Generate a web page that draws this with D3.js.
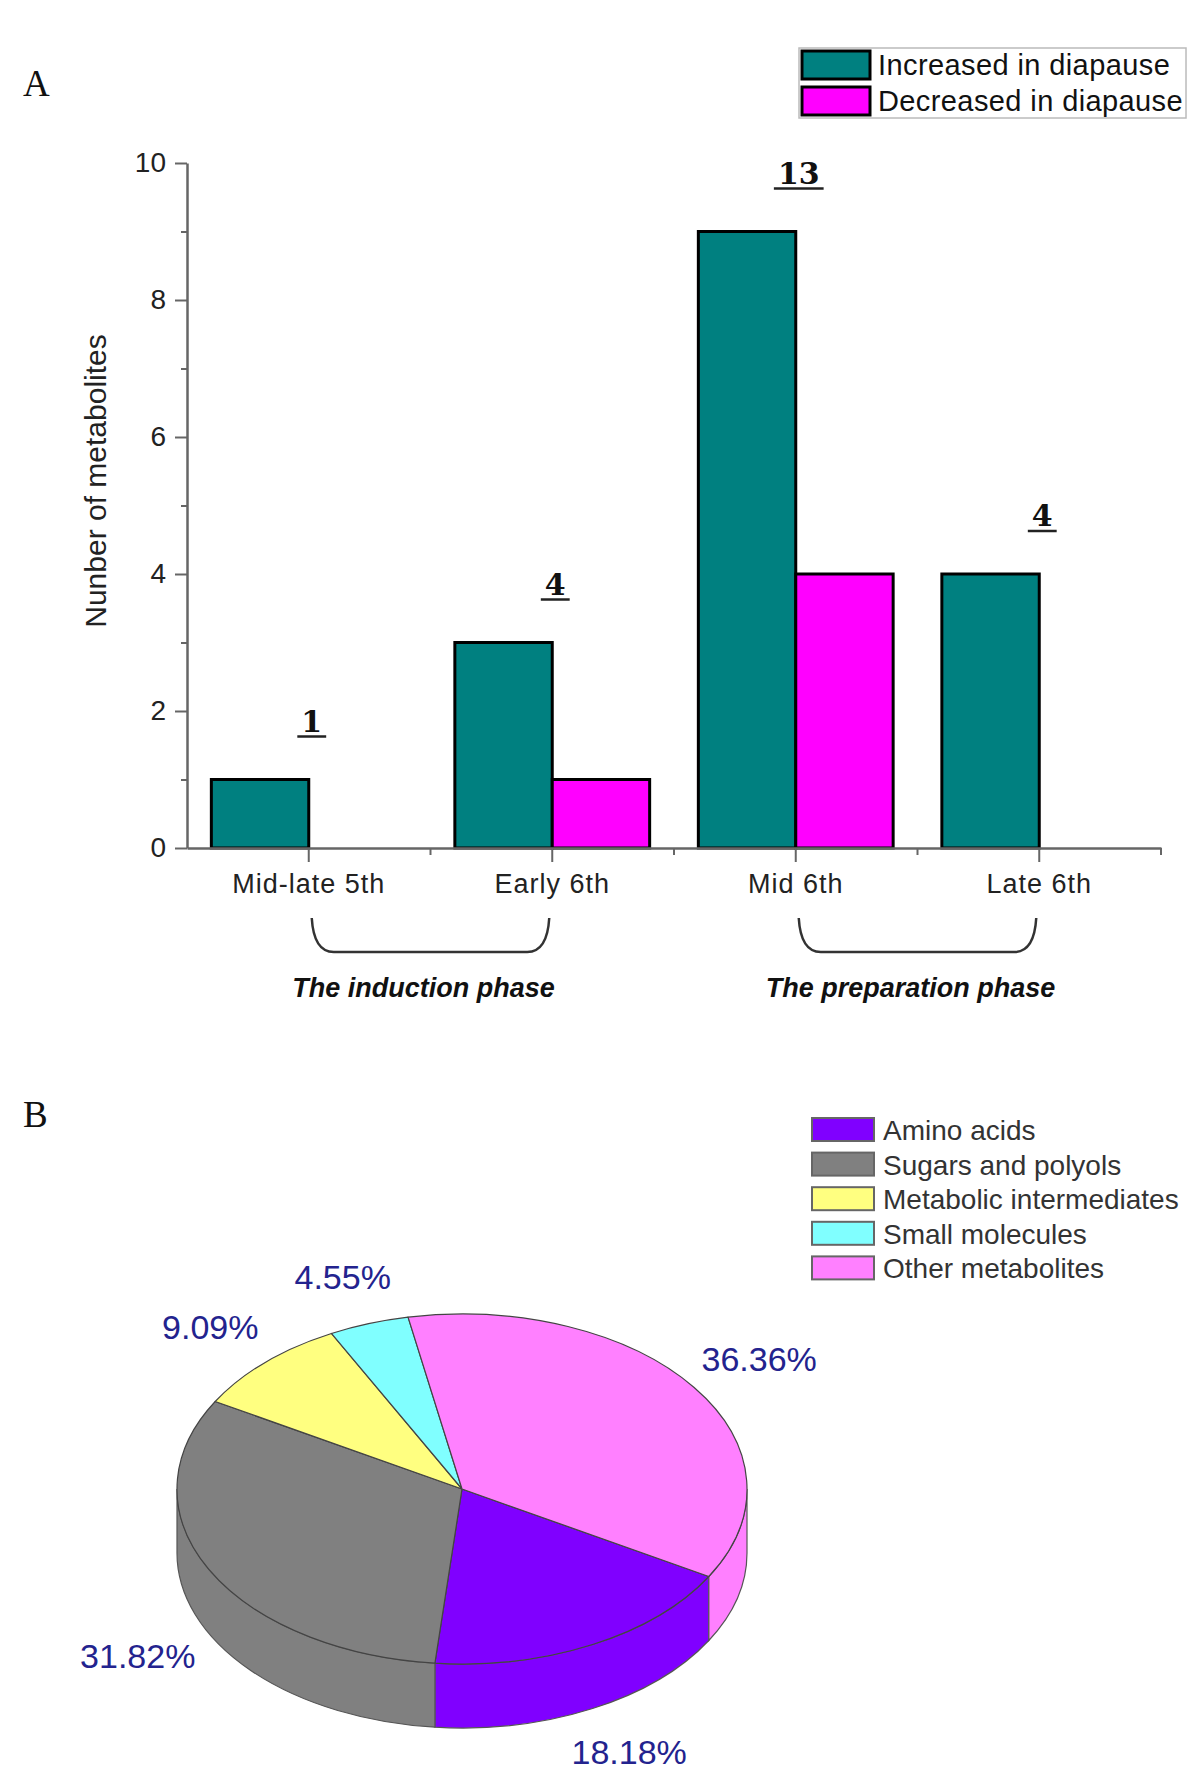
<!DOCTYPE html>
<html>
<head>
<meta charset="utf-8">
<script src="https://cdn.jsdelivr.net/npm/d3@7"></script>
<style>
  html, body { margin: 0; padding: 0; background: #fff; }
  svg { display: block; }
</style>
</head>
<body>
<svg id="chart" width="1200" height="1780"></svg>
<script>
// ---------------- DATA ----------------
const stages = ["Mid-late 5th", "Early 6th", "Mid 6th", "Late 6th"];
const seriesNames = ["Increased in diapause", "Decreased in diapause"];
const increased = [1, 3, 9, 4];
const decreased = [0, 1, 4, 0];
const totals = [1, 4, 13, 4];
const yTickValues = [0, 1, 2, 3, 4, 5, 6, 7, 8, 9, 10];
const yTitle = "Nunber of metabolites";
const phaseNames = ["The induction phase", "The preparation phase"];
const phaseFrom = [0, 2];
const phaseTo = [1, 3];

const pieCategories = ["Amino acids", "Sugars and polyols", "Metabolic intermediates", "Small molecules", "Other metabolites"];
const pieCounts = [4, 7, 2, 1, 8];
const pieLabels = ["18.18%", "31.82%", "9.09%", "4.55%", "36.36%"];

// ---------------- STYLE ----------------
const barColors = ["#008080", "#ff00ff"];
const pieColors = ["#8000ff", "#808080", "#ffff80", "#80ffff", "#ff80ff"];
const sans = "'Liberation Sans', Arial, sans-serif";

const svg = d3.select("#chart");

// Panel letters
svg.append("text").attr("x", 23).attr("y", 96).text("A")
  .attr("font-family", "'Liberation Serif', 'Times New Roman', serif").attr("font-size", 37).attr("fill", "#111");
svg.append("text").attr("x", 23).attr("y", 1127).text("B")
  .attr("font-family", "'Liberation Serif', 'Times New Roman', serif").attr("font-size", 37).attr("fill", "#111");

// ---------------- PANEL A: BAR CHART ----------------
const x = d3.scaleBand().domain(stages).range([187, 1161]).paddingInner(0).paddingOuter(0);
const xs = d3.scaleBand().domain(seriesNames).range([0, x.bandwidth()]).paddingOuter(0.25).paddingInner(0);
const y = d3.scaleLinear().domain([0, 10]).range([848, 163]);

const gA = svg.append("g");

// Y axis
const yAxis = d3.axisLeft(y).tickValues(yTickValues)
  .tickFormat(d => (d % 2 === 0 ? d : "")).tickSize(12).tickSizeOuter(0).tickPadding(9);
const gy = gA.append("g").attr("transform", `translate(${x.range()[0]},0)`).call(yAxis);
gy.select(".domain").attr("stroke", "#666").attr("stroke-width", 2.5);
gy.selectAll(".tick line").attr("stroke", "#666").attr("stroke-width", 2)
  .attr("x2", d => (d % 2 === 0 ? -12 : -6));
gy.selectAll(".tick text").attr("font-family", sans).attr("font-size", 28).attr("fill", "#222");

// Y title
gA.append("text")
  .attr("transform", `translate(106, 481) rotate(-90)`)
  .attr("text-anchor", "middle").attr("font-family", sans).attr("font-size", 30)
  .attr("fill", "#222").text(yTitle);

// Bars
const groups = gA.append("g").selectAll("g").data(stages).join("g")
  .attr("transform", d => `translate(${x(d)},0)`);
groups.selectAll("rect")
  .data((d, i) => [
    { s: seriesNames[0], v: increased[i], c: barColors[0] },
    { s: seriesNames[1], v: decreased[i], c: barColors[1] }
  ].filter(e => e.v > 0))
  .join("rect")
  .attr("x", e => xs(e.s))
  .attr("width", xs.bandwidth())
  .attr("y", e => y(e.v))
  .attr("height", e => y(0) - y(e.v))
  .attr("fill", e => e.c)
  .attr("stroke", "#000")
  .attr("stroke-width", 3);

// X axis
const xAxis = d3.axisBottom(x).tickSize(14).tickSizeOuter(0).tickPadding(12);
const gx = gA.append("g").attr("transform", `translate(0,${y(0)})`).call(xAxis);
gx.select(".domain").attr("stroke", "#666").attr("stroke-width", 2.5);
gx.selectAll(".tick line").attr("stroke", "#666").attr("stroke-width", 2);
gx.selectAll(".tick text").attr("font-family", sans).attr("font-size", 27).attr("fill", "#222")
  .attr("letter-spacing", "1px").attr("dy", null).attr("y", 45);
// minor ticks at group boundaries
const boundaries = stages.map(s => x(s)).concat([x.range()[1]]);
gx.selectAll(".minor").data(boundaries.slice(1)).join("line").attr("class", "minor")
  .attr("x1", d => d).attr("x2", d => d).attr("y1", 0).attr("y2", 7)
  .attr("stroke", "#666").attr("stroke-width", 2);

// Total labels (bold, underlined)
const totalG = gA.append("g").selectAll("g").data(stages).join("g");
totalG.append("text")
  .attr("x", (d) => x(d) + x.bandwidth() / 2 + 3)
  .attr("y", (d, i) => y(Math.max(increased[i], decreased[i])) - 48)
  .attr("text-anchor", "middle")
  .attr("font-family", "'DejaVu Serif', serif").attr("font-weight", "bold").attr("font-size", 30)
  .attr("fill", "#111")
  .text((d, i) => totals[i])
  .each(function (d, i) {
    const bb = this.getBBox();
    d3.select(this.parentNode).append("line")
      .attr("x1", bb.x - 4).attr("x2", bb.x + bb.width + 4)
      .attr("y1", y(Math.max(increased[i], decreased[i])) - 43)
      .attr("y2", y(Math.max(increased[i], decreased[i])) - 43)
      .attr("stroke", "#222").attr("stroke-width", 2.5);
  });

// Phase brackets
const brTop = 918, brBot = 952, rr = 22;
phaseNames.forEach((name, i) => {
  const x1 = x(stages[phaseFrom[i]]) + x.bandwidth() / 2 + 3;
  const x2 = x(stages[phaseTo[i]]) + x.bandwidth() / 2 - 3;
  const p = d3.path();
  p.moveTo(x1, brTop);
  p.quadraticCurveTo(x1 + 2, brBot, x1 + rr, brBot);
  p.lineTo(x2 - rr, brBot);
  p.quadraticCurveTo(x2 - 2, brBot, x2, brTop);
  gA.append("path").attr("d", p.toString()).attr("fill", "none")
    .attr("stroke", "#333").attr("stroke-width", 2.5);
  gA.append("text").attr("x", (x1 + x2) / 2 - 7).attr("y", 997)
    .attr("text-anchor", "middle").attr("font-family", sans)
    .attr("font-weight", "bold").attr("font-style", "italic").attr("font-size", 27)
    .attr("fill", "#111").text(name);
});

// Legend A
const legA = svg.append("g");
legA.append("rect").attr("x", 799).attr("y", 48).attr("width", 387).attr("height", 70)
  .attr("fill", "#fff").attr("stroke", "#bbb").attr("stroke-width", 1.5);
seriesNames.forEach((s, i) => {
  legA.append("rect").attr("x", 802).attr("y", 51 + i * 36).attr("width", 68).attr("height", 28)
    .attr("fill", barColors[i]).attr("stroke", "#000").attr("stroke-width", 3);
  legA.append("text").attr("x", 878).attr("y", 75 + i * 36).attr("font-family", sans)
    .attr("font-size", 29).attr("letter-spacing", "0.4px").attr("fill", "#111").text(s);
});

// ---------------- PANEL B: 3D PIE ----------------
const cx = 462, cy = 1489, rx = 285, ry = 175, depth = 64;
const pie = d3.pie().sort(null).value(d => d).startAngle(Math.PI * 2 / 3).endAngle(Math.PI * 2 / 3 + Math.PI * 2);
const arcs = pie(pieCounts);
const pt = (a, dy = 0) => [cx + rx * Math.sin(a), cy - ry * Math.cos(a) + dy];

const gB = svg.append("g");

// Sides (front half: angles between PI/2 and 3PI/2, modulo 2PI)
arcs.forEach((a, i) => {
  [0, Math.PI * 2].forEach(k => {
    const b0 = Math.max(a.startAngle, Math.PI / 2 + k);
    const b1 = Math.min(a.endAngle, Math.PI * 1.5 + k);
    if (b1 <= b0) return;
    const p0 = pt(b0), p1 = pt(b1), q1 = pt(b1, depth), q0 = pt(b0, depth);
    const large = (b1 - b0) > Math.PI ? 1 : 0;
    const d = `M${p0[0]},${p0[1]} A${rx},${ry} 0 ${large} 1 ${p1[0]},${p1[1]} L${q1[0]},${q1[1]} A${rx},${ry} 0 ${large} 0 ${q0[0]},${q0[1]} Z`;
    gB.append("path").attr("d", d).attr("fill", pieColors[i])
      .attr("stroke", "#555").attr("stroke-width", 1.2);
  });
});

// Top surfaces
arcs.forEach((a, i) => {
  const p0 = pt(a.startAngle), p1 = pt(a.endAngle);
  const large = (a.endAngle - a.startAngle) > Math.PI ? 1 : 0;
  const d = `M${cx},${cy} L${p0[0]},${p0[1]} A${rx},${ry} 0 ${large} 1 ${p1[0]},${p1[1]} Z`;
  gB.append("path").attr("d", d).attr("fill", pieColors[i])
    .attr("stroke", "#444").attr("stroke-width", 1.2).attr("stroke-linejoin", "round");
});

// Percent labels
arcs.forEach((a, i) => {
  const m = (a.startAngle + a.endAngle) / 2;
  const k = 1.28;
  const lx = cx + k * rx * Math.sin(m);
  let ly = cy - k * ry * Math.cos(m);
  if (Math.cos(m) < 0) ly += depth;
  gB.append("text").attr("x", lx).attr("y", ly + 12)
    .attr("text-anchor", "middle").attr("font-family", sans).attr("font-size", 34)
    .attr("fill", "#23238e").text(pieLabels[i]);
});

// Legend B
const legB = svg.append("g");
pieCategories.forEach((c, i) => {
  const top = 1118 + i * 34.6;
  legB.append("rect").attr("x", 812).attr("y", top).attr("width", 62).attr("height", 23)
    .attr("fill", pieColors[i]).attr("stroke", "#666").attr("stroke-width", 2);
  legB.append("text").attr("x", 883).attr("y", top + 22).attr("font-family", sans)
    .attr("font-size", 28).attr("fill", "#333").text(c);
});
</script>
</body>
</html>
